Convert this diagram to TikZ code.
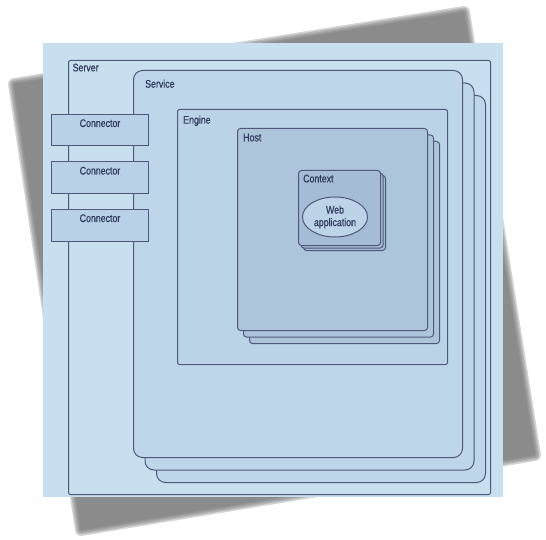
\documentclass[tikz,border=0pt]{standalone}
\usepackage{fontspec}
\setmainfont{Liberation Sans}
\newfontfamily\lblfont[FakeStretch=0.8,FakeBold=0.6]{Liberation Sans}
\usetikzlibrary{shapes.geometric}

\definecolor{paper}{HTML}{C8DFEF}
\definecolor{edge}{HTML}{4E587A}
\definecolor{ink}{HTML}{2F3A5C}
\definecolor{svcfill}{HTML}{BED6E9}
\definecolor{engfill}{HTML}{BBD3E7}
\definecolor{hostfill}{HTML}{ADC5DB}
\definecolor{ctxfill}{HTML}{A5BDD4}
\definecolor{appfill}{HTML}{BDD4E8}
\definecolor{portfill}{HTML}{B9D1E6}

\begin{document}
\begin{tikzpicture}[x=1pt,y=-1pt,
    box/.style={draw=edge,line width=1pt,anchor=north west,inner sep=0pt},
    tag/.style={anchor=north west,inner sep=0pt,text=ink,font=\lblfont\fontsize{11}{12}\selectfont},
    port/.style={draw=edge,line width=1pt,fill=portfill,anchor=north,minimum width=97pt,
      inner xsep=0pt,inner ysep=4.5pt,text height=8pt,text depth=14.5pt,text=ink,
      font=\lblfont\fontsize{11}{12}\selectfont},
    blur/.style={fill=black!55,draw=black!55,line join=round}]

  \useasboundingbox (0,0) rectangle (546,540);

  % shadow of the sheet
  \foreach \w in {12,9,6,3,0.1} {
    \begin{scope}[transparency group,opacity=0.3]
      \filldraw[blur,line width=\w pt] (14,84) -- (464,12) -- (535,455) -- (81,530) -- cycle;
    \end{scope}
  }

  % the sheet
  \fill[paper] (43,43) rectangle (503,497);

  \node[box,rounded corners=2pt,minimum width=422pt,minimum height=434pt] (server) at (68,60) {};
  \node[tag] (servername) at ([shift={(4.5,3.5)}]server.north west) {Server};

  \foreach \i in {2,1}
    \node[box,fill=svcfill,rounded corners=9pt,minimum width=329pt,minimum height=387pt]
      (service\i) at (133+11.5*\i,70+12.5*\i) {};
  \node[box,fill=svcfill,rounded corners=9pt,minimum width=329pt,minimum height=387pt] (service) at (133,70) {};
  \node[tag] (servicename) at ([shift={(12,9.5)}]service.north west) {Service};

  \foreach \i/\y in {1/114,2/161.5,3/209}
    \node[port] (conn\i) at (100,\y) {Connector};

  \node[box,fill=engfill,rounded corners=2pt,minimum width=270pt,minimum height=255pt] (engine) at (177,109) {};
  \node[tag] (enginename) at ([shift={(6,6.5)}]engine.north west) {Engine};

  \foreach \i in {2,1}
    \node[box,fill=hostfill,rounded corners=3pt,minimum width=190pt,minimum height=202pt]
      (host\i) at (237+6*\i,128+6.5*\i) {};
  \node[box,fill=hostfill,rounded corners=3pt,minimum width=190pt,minimum height=202pt] (host) at (237,128) {};
  \node[tag] (hostname) at ([shift={(6,5.5)}]host.north west) {Host};

  \foreach \i in {2,1}
    \node[box,fill=ctxfill,rounded corners=3pt,minimum width=82pt,minimum height=75pt]
      (context\i) at (298+2.5*\i,170+2.5*\i) {};
  \node[box,fill=ctxfill,rounded corners=3pt,minimum width=82pt,minimum height=75pt] (context) at (298,170) {};
  \node[tag] (contextname) at ([shift={(5,4.5)}]context.north west) {Context};

  \node[ellipse,draw=edge,line width=1pt,fill=appfill,minimum width=65pt,minimum height=40pt,
    inner sep=0pt,align=center,text=ink,font=\lblfont\fontsize{11}{12.5}\selectfont] (webapp) at (335,217)
    {Web\\application};

\end{tikzpicture}
\end{document}
